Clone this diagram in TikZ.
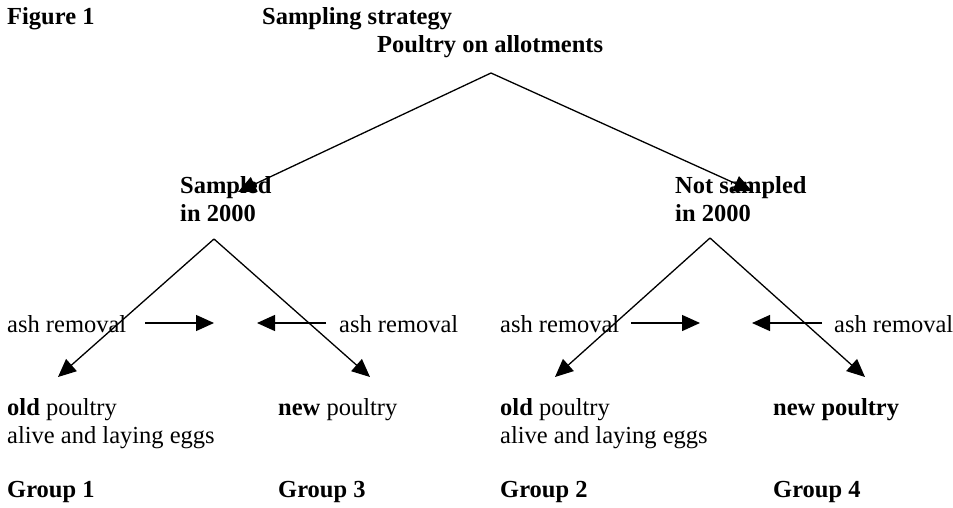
\documentclass[tikz,border=0pt]{standalone}
\usepackage{fontspec}
\setmainfont{Liberation Serif}
\usetikzlibrary{arrows.meta}

\tikzset{
    txt/.style={anchor=base west, inner sep=0pt, font=\fontsize{24.5}{28}\selectfont},
    hd/.style={txt, font=\fontsize{24.5}{28}\selectfont\bfseries},
    tip/.style={line width=1.3pt, -{Triangle[length=18pt, width=16pt]}}
}

\begin{document}
\begin{tikzpicture}[x=1pt, y=-1pt]
        \useasboundingbox (0,0) rectangle (953,507);

        \coordinate (Top) at (491,73);
        \coordinate (SampTip) at (238,192);
        \coordinate (NotTip) at (752,191);
        \coordinate (SampTop) at (214,239);
        \coordinate (NotTop) at (710,238);
        \coordinate (OldA) at (58,377);
        \coordinate (NewA) at (370,377);
        \coordinate (OldB) at (555,377);
        \coordinate (NewB) at (865,377);

        \coordinate (AshAs) at (145,323);
        \coordinate (AshAe) at (214,323);
        \coordinate (AshBs) at (326,323);
        \coordinate (AshBe) at (257,323);
        \coordinate (AshCs) at (631,323);
        \coordinate (AshCe) at (700,323);
        \coordinate (AshDs) at (822,323);
        \coordinate (AshDe) at (752,323);

        \node [hd] (fig) at (7,24) {Figure 1};
        \node [hd] (title) at (262,24) {Sampling strategy};
        \node [hd] (root) at (377,52) {Poultry on allotments};

        \node [hd] (samp) at (180,193) {Sampled};
        \node [hd] (sampyr) at (180,221) {in 2000};
        \node [hd] (notsamp) at (675,193) {Not sampled};
        \node [hd] (notsampyr) at (675,221) {in 2000};

        \node [txt] (ashA) at (7,332) {ash removal};
        \node [txt] (ashB) at (339,332) {ash removal};
        \node [txt] (ashC) at (500,332) {ash removal};
        \node [txt] (ashD) at (834,332) {ash removal};

        \node [txt] (oldI) at (7,415) {\textbf{old} poultry};
        \node [txt] (aliveI) at (7,443) {alive and laying eggs};
        \node [txt] (newI) at (278,415) {\textbf{new} poultry};
        \node [txt] (oldII) at (500,415) {\textbf{old} poultry};
        \node [txt] (aliveII) at (500,443) {alive and laying eggs};
        \node [hd] (newII) at (773,415) {new poultry};

        \node [hd] (grpI) at (7,497) {Group 1};
        \node [hd] (grpIII) at (278,497) {Group 3};
        \node [hd] (grpII) at (500,497) {Group 2};
        \node [hd] (grpIV) at (773,497) {Group 4};

        \draw [tip] (Top) -- (SampTip);
        \draw [tip] (Top) -- (NotTip);
        \draw [tip] (SampTop) -- (OldA);
        \draw [tip] (SampTop) -- (NewA);
        \draw [tip] (NotTop) -- (OldB);
        \draw [tip] (NotTop) -- (NewB);

        \draw [tip] (AshAs) -- (AshAe);
        \draw [tip] (AshBs) -- (AshBe);
        \draw [tip] (AshCs) -- (AshCe);
        \draw [tip] (AshDs) -- (AshDe);
    \end{tikzpicture}
\end{document}
